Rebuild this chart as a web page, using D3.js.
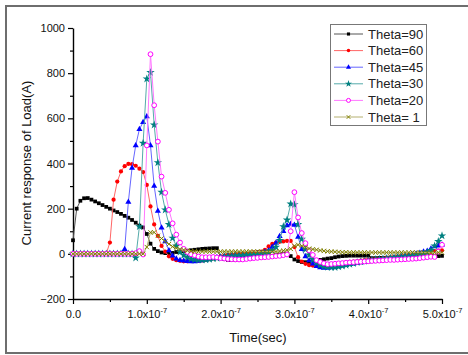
<!DOCTYPE html>
<html><head><meta charset="utf-8">
<script src="https://cdn.jsdelivr.net/npm/d3@7"></script>
<style>
body{margin:0;background:#fff}
svg{display:block}
text{font-family:Arial,"Liberation Sans",sans-serif}
</style>
</head><body>
<svg id="c" width="468" height="355"></svg>
<script>
// ---- data (values in A, sampled every 5 ns from 0 to 500 ns) ----
const timeNs = d3.range(0, 501, 5);
const seriesNames = ["Theta=90","Theta=60","Theta=45","Theta=30","Theta=20","Theta= 1"];
const theta90 = [60,200,235,246,247,240,232,224,216,208,
 200,192,185,177,168,160,150,138,125,117,
 88,45,22,12,6,3,1,4,8,10,
 12,14,16,18,20,22,23,24,25,25,
 -15,-23,-27,-26,-25,-24,-22,-20,-18,-17,
 -15,-14,-13,-12,-9,-6,-3,-1,0,-10,
 -25,-32,-36,-37,-36,-33,-30,-27,-24,-21,
 -19,-15,-12,-10,-9,-8,-8,-8,-8,-8,
 -8,-19,-19,-18,-18,-17,-17,-16,-16,-15,
 -15,-14,-14,-13,-13,-12,-12,-11,-10,-10,
 -9];
const theta60 = [0,0,0,0,0,0,0,0,0,0,
 50,240,320,365,388,398,397,390,377,362,
 305,210,130,80,35,10,-11,-22,-28,-31,
 -33,-33,-32,-31,-30,-29,-27,-24,-20,-15,
 -11,-8,-5,-4,-2,0,1,3,5,6,
 8,10,18,33,44,50,53,55,57,57,
 30,-15,-34,-44,-50,-52,-53,-53,-52,-51,
 -50,-48,-45,-42,-39,-36,-34,-32,-30,-28,
 -26,-25,-23,-22,-20,-18,-16,-14,-12,-10,
 -9,-6,-4,-1,2,4,6,9,12,14,
 15];
const theta45 = [0,0,0,0,0,0,0,0,0,0,
 0,0,0,0,20,230,380,480,552,583,
 608,480,300,190,115,55,15,-9,-22,-28,
 -31,-33,-34,-34,-32,-29,-26,-22,-19,-16,
 -14,-12,-11,-10,-9,-8,-7,-6,-4,-2,
 0,3,8,15,30,48,78,100,125,132,
 128,75,20,-12,-30,-44,-55,-61,-63,-63,
 -61,-59,-55,-52,-49,-46,-44,-41,-38,-35,
 -33,-31,-29,-27,-25,-23,-21,-19,-16,-13,
 -10,-7,-4,0,4,9,13,22,32,36,
 40];
const theta30 = [0,0,0,0,0,0,0,0,0,0,
 0,0,0,0,0,0,0,-18,121,490,
 775,803,571,404,273,195,130,70,35,8,
 -6,-15,-22,-25,-27,-27,-26,-24,-21,-19,
 -16,-13,-11,-10,-9,-8,-7,-6,-5,-4,
 -3,-2,0,5,15,30,60,121,150,221,
 218,130,65,20,-5,-25,-40,-50,-56,-59,
 -60,-60,-57,-54,-50,-46,-42,-38,-35,-32,
 -29,-27,-25,-23,-21,-20,-18,-17,-15,-14,
 -12,-11,-9,-7,-4,0,5,15,35,55,
 80];
const theta20 = [0,0,0,0,0,0,0,0,0,0,
 0,0,0,0,0,0,0,3,12,-3,
 480,884,658,497,342,270,195,135,85,50,
 22,8,-2,-7,-12,-15,-15,-15,-14,-16,
 -19,-21,-23,-24,-25,-25,-25,-23,-21,-19,
 -18,-16,-15,-14,-12,-10,-9,-6,-3,100,
 273,161,92,47,15,-5,-28,-36,-42,-46,
 -45,-44,-42,-41,-39,-38,-37,-36,-35,-34,
 -33,-32,-31,-30,-29,-28,-27,-27,-26,-25,
 -24,-23,-22,-21,-19,-17,-15,-13,-14,10,
 40];
const theta1 = [0,0,0,0,0,0,0,0,0,0,
 0,0,0,0,0,0,0,0,0,0,
 30,95,95,80,68,55,43,32,25,20,
 17,14,12,11,10,10,10,10,10,10,
 10,10,10,10,10,10,10,10,10,10,
 10,10,10,10,10,10,12,14,16,22,
 35,40,35,28,23,20,18,15,13,11,
 10,9,8,7,7,6,6,6,6,6,
 6,6,6,6,6,6,6,6,6,6,
 6,6,6,6,6,6,6,6,6,6,
 6];
const seriesValues = [theta90, theta60, theta45, theta30, theta20, theta1];
const yTicks = [-200,0,200,400,600,800,1000];
const xTicks = [0,1e-7,2e-7,3e-7,4e-7,5e-7];

// ---- styles ----
const colors = ["#000000","#ff0000","#0000ff","#008080","#ff00ff","#808000"];
const lineColors = ["#555555","#ff6666","#6666ff","#55aaaa","#ff77ff","#b5b070"];
const symbols = [d3.symbolSquare, d3.symbolCircle, d3.symbolTriangle, d3.symbolStar, d3.symbolCircle, d3.symbolTimes || d3.symbolCross];
const symSizes = [14, 14, 16, 22, 18, 14];
const filled = [true, true, true, true, false, false];

const svg = d3.select("#c");
// outer frame
svg.append("rect").attr("x",6).attr("y",6).attr("width",470).attr("height",347)
  .attr("fill","none").attr("stroke","#6e6e6e").attr("stroke-width",2);

const x = d3.scaleLinear().domain([0,5e-7]).range([73,442]);
const y = d3.scaleLinear().domain([-200,1000]).range([299,28]);

// axes
const gy = svg.append("g").attr("transform","translate(73,0)")
  .call(d3.axisLeft(y).tickValues(yTicks).tickSize(5).tickSizeOuter(0).tickPadding(3).tickFormat(d3.format("d")));
const gym = svg.append("g").attr("transform","translate(73,0)")
  .call(d3.axisLeft(y).tickValues(d3.range(-100,1000,200)).tickSize(3).tickSizeOuter(0).tickFormat(""));
gym.select(".domain").remove();
const gx = svg.append("g").attr("transform","translate(0,299)")
  .call(d3.axisBottom(x).tickValues(xTicks).tickSize(5).tickSizeOuter(0).tickPadding(6));
const gxm = svg.append("g").attr("transform","translate(0,299)")
  .call(d3.axisBottom(x).tickValues([0.5e-7,1.5e-7,2.5e-7,3.5e-7,4.5e-7]).tickSize(3).tickSizeOuter(0).tickFormat(""));
gxm.select(".domain").remove();
[gy,gym,gx,gxm].forEach(g=>{
  g.selectAll(".domain").attr("stroke","#000").attr("stroke-width",1.4);
  g.selectAll(".tick line").attr("stroke","#000").attr("stroke-width",1.2);
});
gy.selectAll(".tick text").attr("font-size",11).attr("fill","#111");
gx.selectAll(".tick text").each(function(d){
  const t = d3.select(this).text("").attr("font-size",11).attr("fill","#111");
  if (d === 0) { t.text("0.0"); return; }
  t.append("tspan").text((d/1e-7).toFixed(1)+"x10");
  t.append("tspan").attr("dy",-5).attr("font-size",7.5).text("-7");
});

// axis titles
svg.append("text").attr("x",258).attr("y",342).attr("text-anchor","middle")
  .attr("font-size",13).attr("fill","#111").text("Time(sec)");
svg.append("text").attr("transform","translate(31,163) rotate(-90)").attr("text-anchor","middle")
  .attr("font-size",13).attr("fill","#111").text("Current response of Load(A)");

// series
const line = d3.line().x((d,i)=>x(timeNs[i]*1e-9)).y(d=>y(d));
seriesValues.forEach((vals,k)=>{
  const g = svg.append("g");
  g.append("path").datum(vals).attr("d",line).attr("fill","none")
    .attr("stroke",lineColors[k]).attr("stroke-width",1);
  g.selectAll("path.m").data(vals).join("path").attr("class","m")
    .attr("transform",(d,i)=>`translate(${x(timeNs[i]*1e-9)},${y(d)})`)
    .attr("d",d3.symbol(symbols[k], symSizes[k]))
    .attr("fill", filled[k] ? colors[k] : (k===4 ? "#fff" : "none"))
    .attr("stroke", colors[k]).attr("stroke-width", filled[k] ? 0 : 1);
});

// legend
const lg = svg.append("g");
lg.append("rect").attr("x",330.5).attr("y",24.5).attr("width",96).attr("height",101)
  .attr("fill","#fff").attr("stroke","#777").attr("stroke-width",1);
seriesNames.forEach((name,k)=>{
  const yy = 34 + k*16.6;
  lg.append("line").attr("x1",334).attr("x2",363).attr("y1",yy).attr("y2",yy)
    .attr("stroke",lineColors[k]).attr("stroke-width",1);
  lg.append("path").attr("transform",`translate(348.5,${yy})`)
    .attr("d",d3.symbol(symbols[k], symSizes[k]*0.7))
    .attr("fill", filled[k] ? colors[k] : (k===4 ? "#fff" : "none"))
    .attr("stroke", colors[k]).attr("stroke-width", filled[k] ? 0 : 1);
  lg.append("text").attr("x",368).attr("y",yy+4.5).attr("font-size",13)
    .attr("fill","#222").text(name);
});
</script>
</body></html>
